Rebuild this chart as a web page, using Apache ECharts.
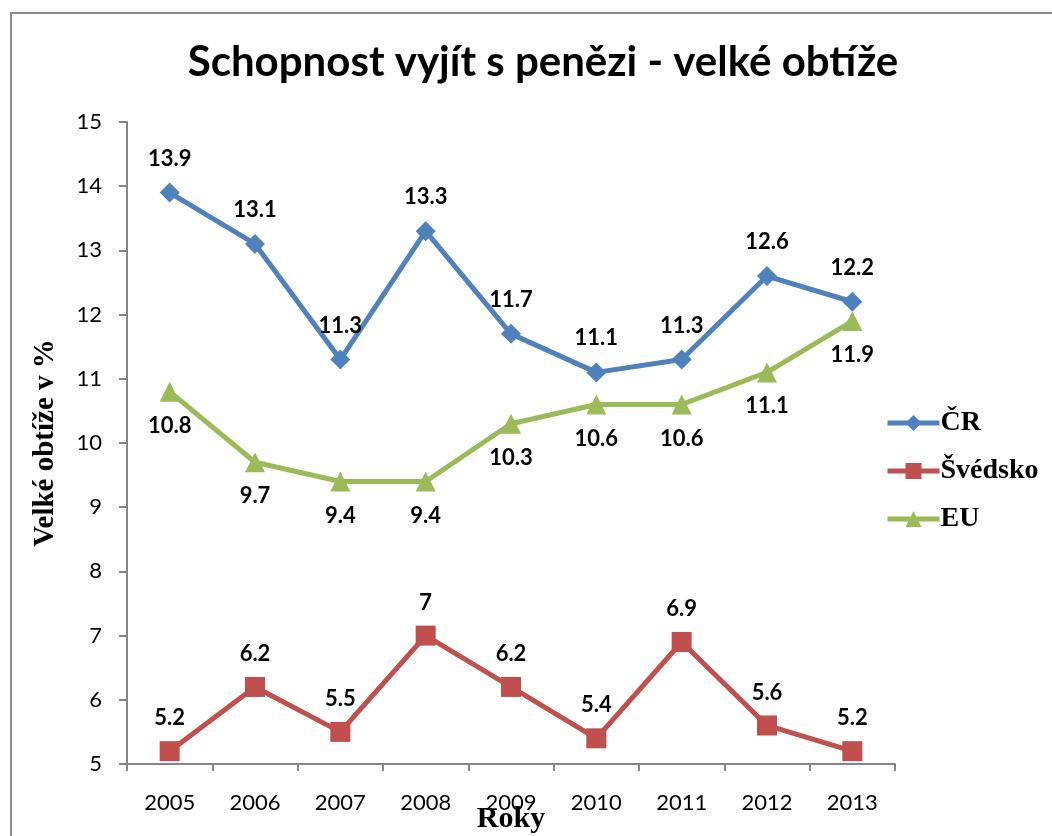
<!DOCTYPE html>
<html>
<head>
<meta charset="utf-8">
<script src="https://cdn.jsdelivr.net/npm/echarts@6/dist/echarts.min.js"></script>
<style>
	html, body { margin: 0; padding: 0; background: #fff; overflow: hidden; }
	.frame { position: absolute; left: 10px; top: 12px; width: 1100px; height: 900px; border: 2px solid #8c8c8c; box-sizing: border-box; }
	#chart { position: absolute; left: 0; top: 0; width: 1052px; height: 836px; }
</style>
</head>
<body>
<div class="frame"></div>
<div id="chart"></div>
<script>
	// data
	var years = ['2005', '2006', '2007', '2008', '2009', '2010', '2011', '2012', '2013'];
	var cr = [13.9, 13.1, 11.3, 13.3, 11.7, 11.1, 11.3, 12.6, 12.2];
	var svedsko = [5.2, 6.2, 5.5, 7, 6.2, 5.4, 6.9, 5.6, 5.2];
	var eu = [10.8, 9.7, 9.4, 9.4, 10.3, 10.6, 10.6, 11.1, 11.9];

	var sansFont = 'Lato, "Open Sans", sans-serif';
	var serifFont = '"Liberation Serif", "DejaVu Serif", serif';
	var axisColor = '#868686';

	function makeSeries(name, data, color, symbol, size, pos, dist) {
		return {
			name: name,
			type: 'line',
			data: data,
			symbol: symbol,
			symbolSize: size,
			lineStyle: { color: color, width: 5 },
			itemStyle: { color: color },
			label: {
				show: true,
				position: pos,
				distance: dist,
				fontFamily: sansFont,
				fontWeight: 'bold',
				fontSize: 22,
				color: '#000'
			}
		};
	}

	var chart = echarts.init(document.getElementById('chart'));
	chart.setOption({
		animation: false,
		title: {
			text: 'Schopnost vyjít s penězi - velké obtíže',
			left: 538,
			top: 36,
			textAlign: 'center',
			textStyle: { fontFamily: sansFont, fontWeight: 'bold', fontSize: 42, color: '#000' }
		},
		grid: { left: 127, right: 157, top: 122, bottom: 72, outerBoundsMode: 'none', containLabel: false },
		legend: {
			orient: 'vertical',
			left: 880,
			top: 404,
			itemGap: 20,
			itemWidth: 52,
			itemHeight: 20,
			lineStyle: { width: 5 },
			textStyle: { fontFamily: serifFont, fontWeight: 'bold', fontSize: 28, color: '#000', padding: [0, 0, 0, -4] },
			data: ['ČR', 'Švédsko', 'EU']
		},
		xAxis: {
			type: 'category',
			data: years,
			boundaryGap: true,
			name: 'Roky',
			nameLocation: 'middle',
			nameGap: 40,
			nameMoveOverlap: false,
			nameTextStyle: { fontFamily: serifFont, fontWeight: 'bold', fontSize: 30, color: '#000' },
			axisLine: { lineStyle: { color: axisColor, width: 2 } },
			axisTick: { show: true, length: 7, lineStyle: { color: axisColor, width: 2 } },
			axisLabel: { fontFamily: sansFont, fontSize: 22, color: '#000', margin: 28 }
		},
		yAxis: {
			type: 'value',
			min: 5,
			max: 15,
			interval: 1,
			name: 'Velké obtíže v %',
			nameLocation: 'middle',
			nameGap: 67,
			nameTextStyle: { fontFamily: serifFont, fontWeight: 'bold', fontSize: 29, color: '#000' },
			splitLine: { show: false },
			axisLine: { show: true, lineStyle: { color: axisColor, width: 2 } },
			axisTick: { show: true, length: 8, lineStyle: { color: axisColor, width: 2 } },
			axisLabel: { fontFamily: sansFont, fontSize: 22, color: '#000', margin: 25 }
		},
		series: [
			makeSeries('ČR', cr, '#4F81BD', 'diamond', 20, 'top', 13),
			makeSeries('Švédsko', svedsko, '#C0504D', 'rect', 20, 'top', 12),
			makeSeries('EU', eu, '#9BBB59', 'triangle', 20, 'bottom', 13)
		]
	});
</script>
</body>
</html>
